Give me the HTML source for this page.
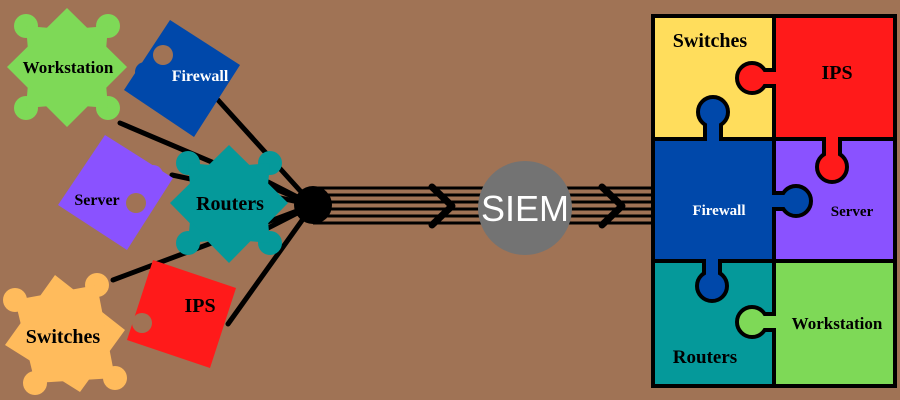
<!DOCTYPE html>
<html><head><style>body{margin:0;background:#A07355}svg{display:block}text{font-family:"Liberation Serif",serif;font-weight:bold}</style></head><body>
<svg width="900" height="400" viewBox="0 0 900 400">
<rect width="900" height="400" fill="#A07355"/>
<g stroke="#000" stroke-width="5" stroke-linecap="round">
<line x1="120" y1="123" x2="313" y2="205"/>
<line x1="218" y1="100" x2="313" y2="205"/>
<line x1="172" y1="175" x2="313" y2="205"/>
<line x1="268" y1="182" x2="313" y2="205"/>
<line x1="268" y1="228" x2="313" y2="205"/>
<line x1="113" y1="280" x2="313" y2="205"/>
<line x1="228" y1="324" x2="313" y2="205"/>
</g>
<g stroke="#000" stroke-width="3">
<line x1="313" y1="188" x2="655" y2="188"/><line x1="313" y1="195" x2="655" y2="195"/>
<line x1="313" y1="202" x2="655" y2="202"/><line x1="313" y1="209" x2="655" y2="209"/>
<line x1="313" y1="216" x2="655" y2="216"/><line x1="313" y1="223" x2="655" y2="223"/>
</g>
<g fill="none" stroke="#000" stroke-width="7" stroke-linecap="round" stroke-linejoin="round">
<polyline points="432,187 452,206 432,225"/><polyline points="602,187 622,206 602,225"/>
</g>
<circle cx="313" cy="205" r="19" fill="#000"/>
<circle cx="525" cy="208" r="47" fill="#737373"/>
<text x="525" y="221" fill="#fff" font-size="36" text-anchor="middle" style="font-family:'Liberation Sans',sans-serif;font-weight:normal">SIEM</text>

<!-- Workstation -->
<g fill="#7ED957"><polygon points="67,8 127,67 67,127 7,67"/>
<circle cx="26" cy="26" r="12"/><circle cx="108" cy="26" r="12"/><circle cx="26" cy="108" r="12"/><circle cx="108" cy="108" r="12"/>
<polygon points="26,26 50,28 28,50"/><polygon points="108,26 84,28 106,50"/><polygon points="26,108 50,106 28,84"/><polygon points="108,108 84,106 106,84"/></g>
<text x="68" y="73" font-size="17" text-anchor="middle">Workstation</text>
<!-- Firewall -->
<polygon points="170,20 240,65 194,137 124,90" fill="#0048AA"/>
<circle cx="163" cy="55" r="10" fill="#A07355"/><circle cx="145" cy="72" r="10" fill="#0048AA"/>
<text x="200" y="81" font-size="16" fill="#fff" text-anchor="middle">Firewall</text>
<!-- Server -->
<polygon points="105,135 173,178 127,250 58,205" fill="#8A52FF"/>
<circle cx="136" cy="203" r="10" fill="#A07355"/><circle cx="153" cy="175" r="10" fill="#8A52FF"/>
<text x="97" y="205" font-size="16" text-anchor="middle">Server</text>
<!-- Routers -->
<g fill="#05999A"><polygon points="229,145 288,203 229,263 170,203"/>
<circle cx="188" cy="163" r="12"/><circle cx="270" cy="163" r="12"/><circle cx="188" cy="243" r="12"/><circle cx="270" cy="243" r="12"/>
<polygon points="188,163 210,165 190,185"/><polygon points="270,163 248,165 268,185"/><polygon points="188,243 210,241 190,221"/><polygon points="270,243 248,241 268,221"/></g>
<text x="230" y="210" font-size="20" text-anchor="middle">Routers</text>
<!-- Switches -->
<g fill="#FFBB5C"><polygon points="55,275 125,330 80,392 5,345"/>
<circle cx="15" cy="300" r="12"/><circle cx="97" cy="285" r="12"/><circle cx="115" cy="378" r="12"/><circle cx="35" cy="383" r="12"/>
<polygon points="15,300 97,285 115,378 35,383"/></g>
<text x="63" y="343" font-size="20" text-anchor="middle">Switches</text>
<!-- IPS -->
<polygon points="153,260 236,288 210,368 127,340" fill="#FF1A1A"/>
<circle cx="142" cy="323" r="10" fill="#A07355"/>
<text x="200" y="312" font-size="20" text-anchor="middle">IPS</text>

<!-- Right grid -->
<g stroke="#000" stroke-width="4">
<rect x="653" y="16" width="121" height="123" fill="#FFDD5C"/>
<rect x="774" y="16" width="121" height="123" fill="#FF1A1A"/>
<rect x="653" y="139" width="121" height="122" fill="#0048AA"/>
<rect x="774" y="139" width="121" height="122" fill="#8A52FF"/>
<rect x="653" y="261" width="121" height="125" fill="#05999A"/>
<rect x="774" y="261" width="121" height="125" fill="#7ED957"/>
<circle cx="752" cy="78" r="15" fill="#FF1A1A"/>
<circle cx="713" cy="112" r="15" fill="#0048AA"/>
<circle cx="832" cy="167" r="15" fill="#FF1A1A"/>
<circle cx="796" cy="201" r="15" fill="#0048AA"/>
<circle cx="712" cy="286" r="15" fill="#0048AA"/>
<circle cx="752" cy="322" r="15" fill="#7ED957"/>
<line x1="764" y1="70" x2="774" y2="70"/><line x1="764" y1="86" x2="774" y2="86"/>
<line x1="705" y1="124" x2="705" y2="139"/><line x1="721" y1="124" x2="721" y2="139"/>
<line x1="824" y1="139" x2="824" y2="155"/><line x1="840" y1="139" x2="840" y2="155"/>
<line x1="774" y1="193" x2="784" y2="193"/><line x1="774" y1="209" x2="784" y2="209"/>
<line x1="704" y1="261" x2="704" y2="274"/><line x1="720" y1="261" x2="720" y2="274"/>
<line x1="764" y1="314" x2="774" y2="314"/><line x1="764" y1="330" x2="774" y2="330"/>
</g>
<g stroke="none">
<rect x="752" y="72" width="24" height="12" fill="#FF1A1A"/>
<rect x="707" y="112" width="12" height="30" fill="#0048AA"/>
<rect x="826" y="136" width="12" height="31" fill="#FF1A1A"/>
<rect x="771" y="195" width="25" height="12" fill="#0048AA"/>
<rect x="706" y="258" width="12" height="28" fill="#0048AA"/>
<rect x="752" y="316" width="24" height="12" fill="#7ED957"/>
</g>
<text x="710" y="47" font-size="20" text-anchor="middle">Switches</text>
<text x="837" y="79" font-size="20" text-anchor="middle">IPS</text>
<text x="719" y="215" font-size="15" fill="#fff" text-anchor="middle">Firewall</text>
<text x="852" y="216" font-size="15" text-anchor="middle">Server</text>
<text x="837" y="329" font-size="17" text-anchor="middle">Workstation</text>
<text x="705" y="363" font-size="19" text-anchor="middle">Routers</text>
</svg>
</body></html>
